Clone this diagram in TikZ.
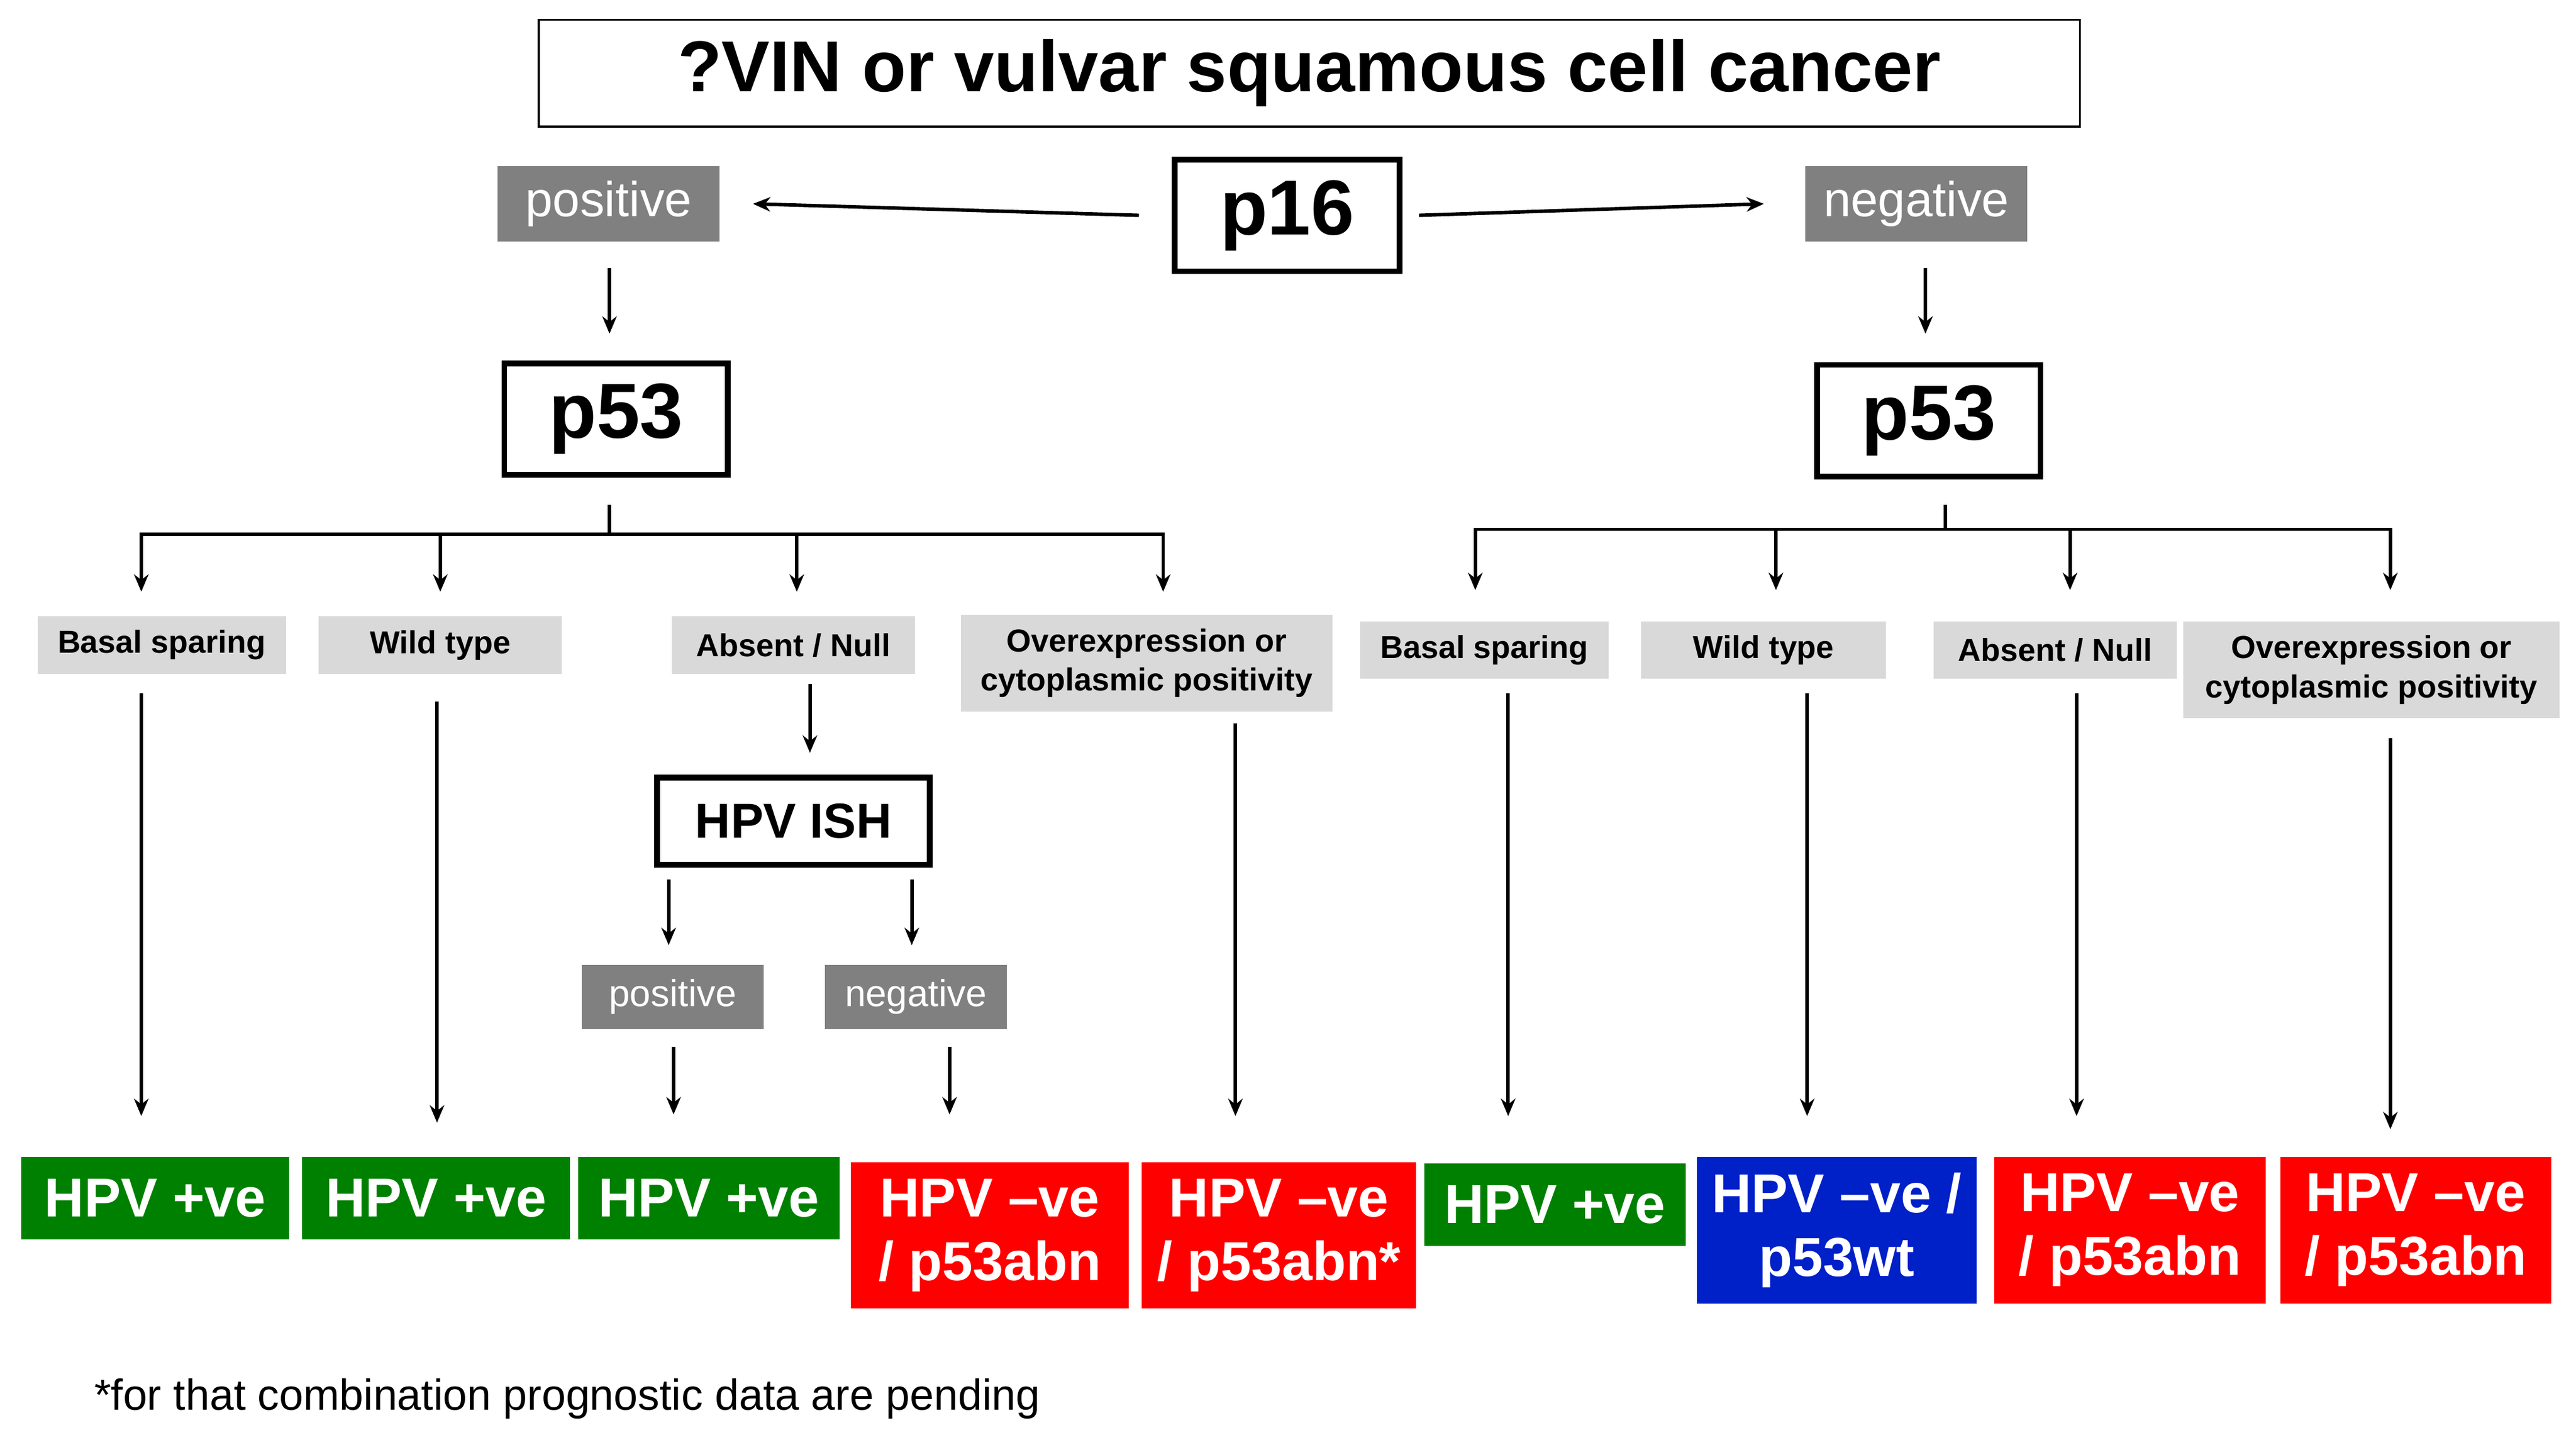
\documentclass[tikz,border=0pt]{standalone}
\usepackage{fontspec}
\setmainfont{Liberation Sans}
\usetikzlibrary{arrows.meta}
\definecolor{dg}{RGB}{128,128,128}
\definecolor{lg}{RGB}{217,217,217}
\definecolor{gr}{RGB}{0,128,0}
\definecolor{rd}{RGB}{255,0,0}
\definecolor{bl}{RGB}{0,32,200}
\newcommand\bx[7]{\pgfmathsetmacro\ww{(#4-#2)*0.02}\pgfmathsetmacro\hh{(#5-#3)*0.02}\node[#6,minimum width=\ww cm,minimum height=\hh cm,inner sep=0pt] (#1) at ({(#2+#4)/2},{(#3+#5)/2}) {#7};}
\begin{document}
\begin{tikzpicture}[x=0.02cm,y=-0.02cm,
 title/.style={draw,line width=0.7pt,font=\fontsize{25}{28}\selectfont\bfseries},
 mk/.style={draw,line width=2pt,font=\fontsize{27}{30}\selectfont\bfseries},
 ish/.style={draw,line width=2pt,font=\fontsize{17}{20}\selectfont\bfseries},
 gbig/.style={fill=dg,text=white,font=\fontsize{17}{20}\selectfont},
 gsm/.style={fill=dg,text=white,font=\fontsize{13}{15}\selectfont},
 lab/.style={fill=lg,font=\fontsize{11}{13.5}\selectfont\bfseries,align=center},
 res/.style={text=white,font=\fontsize{19}{22}\selectfont\bfseries,align=center},
 arr/.style={line width=1.2pt,-{Stealth[length=6pt,width=5pt]}},
 ln/.style={line width=1.2pt}]
\useasboundingbox (0,0) rectangle (1568,873);
\bx{t}{328}{12}{1266}{77}{title}{?VIN or vulvar squamous cell cancer}
\bx{p16}{715}{97}{852}{165}{mk}{p16}
\bx{pos}{303}{101}{438}{147}{gbig}{positive}
\bx{neg}{1099}{101}{1234}{147}{gbig}{negative}
\bx{pL}{307}{221}{443}{289}{mk}{p53}
\bx{pR}{1106}{222}{1242}{290}{mk}{p53}
\draw[arr] ([xshift=-0.4cm]p16.west) -- ([xshift=0.4cm]pos.east);
\draw[arr] ([xshift=0.2cm]p16.east) -- ([xshift=-0.5cm]neg.west);
\draw[arr] (371,163) -- (371,203);
\draw[arr] (1172,163) -- (1172,203);
% left tree
\draw[ln] (371,307) -- (371,325);
\draw[ln] (86,325) -- (709,325);
\foreach \x in {86,268,485,708} \draw[arr] (\x,324) -- (\x,360);
\bx{l1}{23}{375}{174}{410}{lab}{Basal sparing}
\bx{l2}{194}{375}{342}{410}{lab}{Wild type}
\bx{l3}{409}{375}{557}{410}{lab}{Absent / Null}
\bx{l4}{585}{374}{811}{433}{lab}{Overexpression or\\cytoplasmic positivity}
% right tree
\draw[ln] (1184,307) -- (1184,322);
\draw[ln] (898,322) -- (1455,322);
\foreach \x in {898,1081,1260,1455} \draw[arr] (\x,321) -- (\x,359);
\bx{r1}{828}{378}{979}{413}{lab}{Basal sparing}
\bx{r2}{999}{378}{1148}{413}{lab}{Wild type}
\bx{r3}{1177}{378}{1325}{413}{lab}{Absent / Null}
\bx{r4}{1329}{378}{1558}{437}{lab}{Overexpression or\\cytoplasmic positivity}
% ISH
\bx{ish}{400}{473}{566}{526}{ish}{HPV ISH}
\draw[arr] (493,416) -- (493,458);
\draw[arr] (407,535) -- (407,575);
\draw[arr] (555,535) -- (555,575);
\bx{ip}{354}{587}{465}{626}{gsm}{positive}
\bx{in}{502}{587}{613}{626}{gsm}{negative}
\draw[arr] (410,637) -- (410,678);
\draw[arr] (578,637) -- (578,678);
% long arrows
\draw[arr] (86,422) -- (86,679);
\draw[arr] (266,427) -- (266,683);
\draw[arr] (752,440) -- (752,679);
\draw[arr] (918,422) -- (918,679);
\draw[arr] (1100,422) -- (1100,679);
\draw[arr] (1264,422) -- (1264,679);
\draw[arr] (1455,449) -- (1455,687);
% results
\bx{b1}{13}{704}{176}{754}{res,fill=gr}{HPV +ve}
\bx{b2}{184}{704}{347}{754}{res,fill=gr}{HPV +ve}
\bx{b3}{352}{704}{511}{754}{res,fill=gr}{HPV +ve}
\bx{b4}{518}{707}{687}{796}{res,fill=rd}{HPV –ve\\/ p53abn}
\bx{b5}{695}{707}{862}{796}{res,fill=rd}{HPV –ve\\/ p53abn*}
\bx{b6}{867}{708}{1026}{758}{res,fill=gr}{HPV +ve}
\bx{b7}{1033}{704}{1203}{793}{res,fill=bl}{HPV –ve /\\p53wt}
\bx{b8}{1214}{704}{1379}{793}{res,fill=rd}{HPV –ve\\/ p53abn}
\bx{b9}{1388}{704}{1553}{793}{res,fill=rd}{HPV –ve\\/ p53abn}
\node[anchor=west,inner sep=0pt,font=\fontsize{15}{18}\selectfont] (fn) at (57,851) {*for that combination prognostic data are pending};
\end{tikzpicture}
\end{document}
